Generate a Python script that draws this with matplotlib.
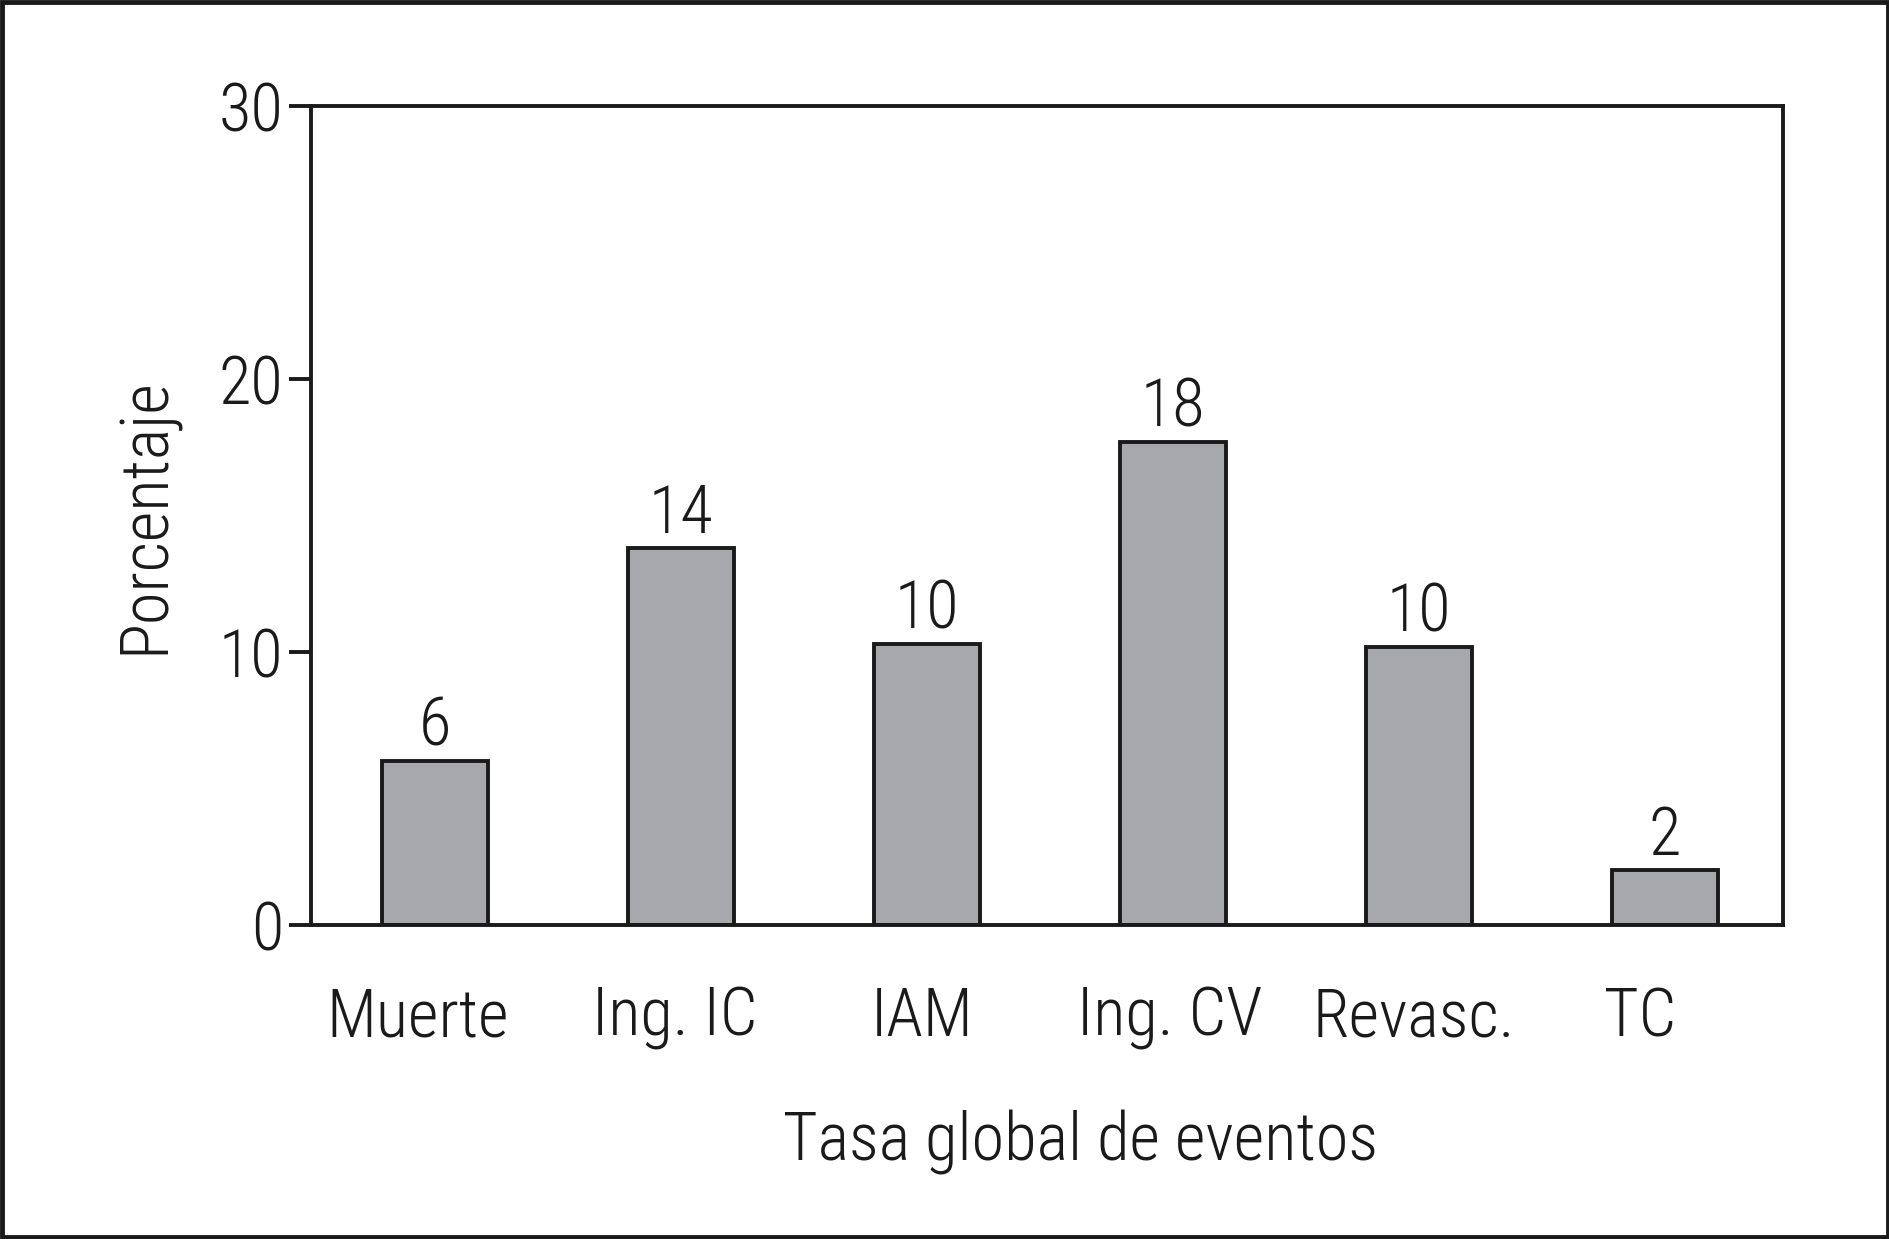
import matplotlib
matplotlib.use("Agg")
import matplotlib.pyplot as plt
from matplotlib.patches import Rectangle

plt.rcParams['font.family'] = ['Roboto Condensed', 'Liberation Sans Narrow', 'DejaVu Sans Condensed',
                               'Roboto', 'DejaVu Sans']
plt.rcParams['font.weight'] = 'light'
plt.rcParams['axes.labelweight'] = 'light'

categories = ["Muerte", "Ing. IC", "IAM", "Ing. CV", "Revasc.", "TC"]
values = [6.0, 13.8, 10.3, 17.7, 10.2, 2.0]
value_labels = ["6", "14", "10", "18", "10", "2"]
yticks = [0, 10, 20, 30]

fig = plt.figure(figsize=(18.9, 12.39), dpi=100)
ax = fig.add_axes([0.1646, 0.2534, 0.7788, 0.661])

x = list(range(len(categories)))
ax.bar(x, values, width=0.43, color="#a7a8ab", edgecolor="#1a1a1a", linewidth=2.8)
for xi, v, lab in zip(x, values, value_labels):
    ax.text(xi, v + 0.05, lab, ha="center", va="bottom", fontsize=48, color="#1a1a1a")

ax.set_xlim(-0.505, 5.48)
ax.set_ylim(0, 30)
ax.set_yticks(yticks)
ax.set_yticklabels([str(t) for t in yticks], fontsize=48, color="#1a1a1a")
label_shift = [-0.07, -0.025, -0.02, -0.015, -0.02, -0.1]
ax.set_xticks([xi + d for xi, d in zip(x, label_shift)])
ax.set_xticklabels(categories, fontsize=48, color="#1a1a1a")
ax.tick_params(axis="x", length=0, pad=44)
ax.tick_params(axis="y", length=16, width=2.8, pad=4, color="#1a1a1a")
for s in ax.spines.values():
    s.set_linewidth(2.8)
    s.set_color("#1a1a1a")

ax.set_ylabel("Porcentaje", fontsize=48, color="#1a1a1a", labelpad=29)
ax.set_xlabel("Tasa global de eventos", fontsize=48, color="#1a1a1a")
ax.xaxis.set_label_coords(0.5225, -0.226)

fig.patches.append(Rectangle((0.0012, 0.0018), 0.9976, 0.9964, transform=fig.transFigure,
                             fill=False, edgecolor="#1a1a1a", linewidth=3.5))

fig.savefig("out.png", dpi=100, facecolor="white")
